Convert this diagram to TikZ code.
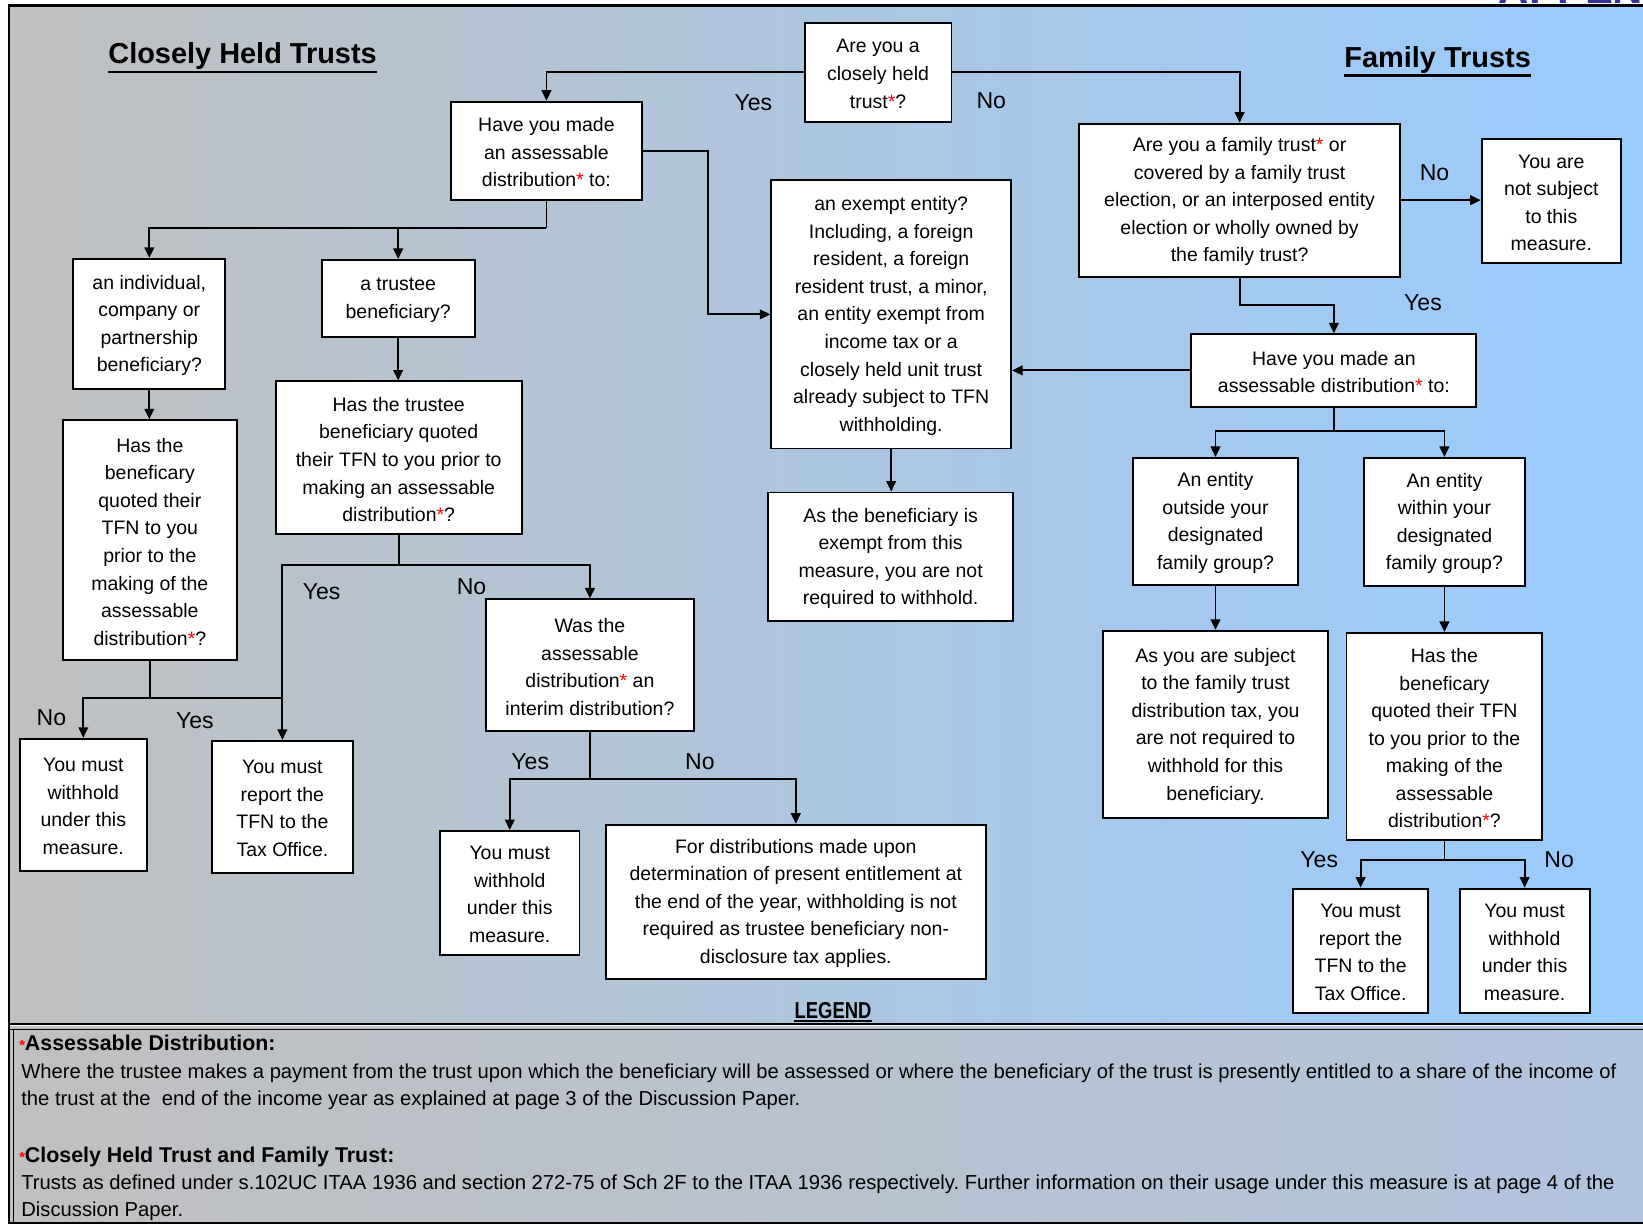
\documentclass[tikz,border=0pt]{standalone}
\usepackage{fontspec}
\setmainfont{Liberation Sans}
\usepackage{graphicx}
\usetikzlibrary{arrows.meta,fit,calc}
\definecolor{silv}{HTML}{C0C0C0}
\definecolor{lblue}{HTML}{99CCFF}
\definecolor{steel}{HTML}{B0C4DE}
\definecolor{navyt}{HTML}{333399}
\newcommand\rast{{\color{red}*}}
\newcommand\lgast{{\color{red}\fontsize{7}{7}\selectfont *}}
\frenchspacing
% box: name, corner, corner, text
\newcommand\mybox[4]{%
  \node[box, fit={#2 #3}] (#1) {};
  \node[btxt] (#1-t) at ([yshift=-0.75pt]#1.center) {#4};}
\begin{document}
\begin{tikzpicture}[x=0.5pt,y=-0.5pt,
  box/.style={draw=black, fill=white, line width=0.9pt, inner sep=0pt},
  btxt/.style={inner sep=0pt, align=center, font=\fontsize{9.3}{13.15}\selectfont},
  conn/.style={line width=0.9pt},
  arr/.style={conn, -{Triangle[length=5pt,width=4.6pt]}},
  yn/.style={font=\fontsize{11}{13}\selectfont, inner sep=0pt},
  ttl/.style={font=\fontsize{13.8}{16}\selectfont\bfseries, inner sep=0pt, anchor=base},
  lgh/.style={font=\fontsize{10.2}{12}\selectfont\bfseries, inner sep=0pt, anchor=base west},
  lgt/.style={font=\fontsize{9.65}{12}\selectfont, inner sep=0pt, anchor=base west},
]
\useasboundingbox (0,0) rectangle (1568,1169);
\fill[white] (0,0) rectangle (1568,1169);
% backgrounds
\shade[left color=silv, right color=lblue] (9,5) rectangle (1568,978);
\shade[left color=silv, right color=steel] (9,980) rectangle (1568,1168);
% appendix heading (cut off at the top edge, as in the reference)
\node[anchor=base west, inner sep=0pt, font=\fontsize{20}{20}\selectfont\bfseries, text=navyt] (app) at (1430,3.5) {APPENDIX};
% frame
\draw[line width=1.2pt] (8,5) -- (1568,5);
\draw[line width=1pt] (9,5) -- (9,1168);
\draw[line width=0.9pt] (9,977.5) -- (1568,977.5);
\draw[line width=0.9pt] (9,982.5) -- (1568,982.5);
\draw[line width=0.8pt] (13,982.5) -- (13,1167);
\draw[line width=1pt] (9,1167.5) -- (1568,1167.5);

% titles
\node[ttl] (t1) at (231.5,61) {Closely Held Trusts};
\draw[line width=1.3pt] ([yshift=-0.8pt]t1.south west) -- ([yshift=-0.8pt]t1.south east);
\node[ttl] (t2) at (1372,64) {Family Trusts};
\draw[line width=1.3pt] ([yshift=-0.8pt]t2.south west) -- ([yshift=-0.8pt]t2.south east);

% boxes
\mybox{Q0}{(768,22)}{(908,116)}{Are you a\\closely held\\trust\rast?}
\mybox{A}{(430,97)}{(613,191)}{Have you made\\an assessable\\distribution\rast{} to:}
\mybox{B1}{(70,247)}{(215,371)}{an individual,\\company or\\partnership\\beneficiary?}
\mybox{B2}{(307,248)}{(453,322)}{a trustee\\beneficiary?}
\mybox{C1}{(60,401)}{(226,630)}{Has the\\beneficary\\quoted their\\TFN to you\\prior to the\\making of the\\assessable\\distribution\rast?}
\mybox{C2}{(263,364)}{(498,510)}{Has the trustee\\beneficiary quoted\\their TFN to you prior to\\making an assessable\\distribution\rast?}
\mybox{E1}{(19,705)}{(140,831)}{You must\\withhold\\under this\\measure.}
\mybox{E2}{(202,707)}{(337,833)}{You must\\report the\\TFN to the\\Tax Office.}
\mybox{D}{(464,572)}{(662,698)}{Was the\\assessable\\distribution\rast{} an\\interim distribution?}
\mybox{F1}{(420,793)}{(553,911)}{You must\\withhold\\under this\\measure.}
\mybox{F2}{(578,787)}{(941,934)}{For distributions made upon\\determination of present entitlement at\\the end of the year, withholding is not\\required as trustee beneficiary non-\\disclosure tax applies.}
\mybox{EX}{(736,172)}{(965,428)}{an exempt entity?\\Including, a foreign\\resident, a foreign\\resident trust, a minor,\\an entity exempt from\\income tax or a\\closely held unit trust\\already subject to TFN\\withholding.}
\mybox{G}{(733,470)}{(967,593)}{As the beneficiary is\\exempt from this\\measure, you are not\\required to withhold.}
\mybox{FT}{(1030,118)}{(1336,264)}{Are you a family trust\rast{} or\\covered by a family trust\\election, or an interposed entity\\election or wholly owned by\\the family trust?}
\mybox{NS}{(1414,133)}{(1547,251)}{You are\\not subject\\to this\\measure.}
\mybox{H}{(1137,319)}{(1409,388)}{Have you made an\\assessable distribution\rast{} to:}
\mybox{I1}{(1081,437)}{(1239,558)}{An entity\\outside your\\designated\\family group?}
\mybox{I2}{(1302,437)}{(1455,559)}{An entity\\within your\\designated\\family group?}
\mybox{J1}{(1053,602)}{(1267,781)}{As you are subject\\to the family trust\\distribution tax, you\\are not required to\\withhold for this\\beneficiary.}
\mybox{K}{(1285,604)}{(1472,802)}{Has the\\beneficary\\quoted their TFN\\to you prior to the\\making of the\\assessable\\distribution\rast?}
\mybox{L1}{(1234,848)}{(1363,967)}{You must\\report the\\TFN to the\\Tax Office.}
\mybox{L2}{(1393,848)}{(1517,967)}{You must\\withhold\\under this\\measure.}

% connectors
\draw[arr] (Q0.west) -| (A.north);
\draw[arr] (Q0.east) -| (FT.north);
\draw[arr] (A.east) -- ++(62,0) |- (EX.west);
\coordinate (jA) at (A.south |- 0,218);
\draw[conn] (A.south) -- (jA);
\draw[arr] (jA) -| (B1.north);
\draw[arr] (jA) -| (B2.north);
\draw[arr] (B1.south) -- (B1.south |- C1.north);
\draw[arr] (B2.south) -- (B2.south |- C2.north);
\coordinate (jC2) at (C2.south |- 0,539);
\draw[conn] (C2.south) -- (jC2);
\draw[arr] (jC2) -| (E2.north);
\draw[arr] (jC2) -| (D.north);
\coordinate (jC1) at (C1.south |- 0,666);
\draw[conn] (C1.south) -- (jC1) -- (jC1 -| E2.north);
\draw[arr] (jC1) -| (E1.north);
\coordinate (jD) at (D.south |- 0,743);
\draw[conn] (D.south) -- (jD);
\draw[arr] (jD) -| (F1.north);
\draw[arr] (jD) -| (F2.north);
\draw[arr] (EX.south) -- (EX.south |- G.north);
\draw[arr] (FT.east) -- (FT.east -| NS.west);
\coordinate (jF) at (FT.south |- 0,291);
\draw[arr] (FT.south) -- (jF) -| (H.north);
\draw[arr] (H.west) -- (H.west -| EX.east);
\coordinate (jH) at (H.south |- 0,411);
\draw[conn] (H.south) -- (jH);
\draw[arr] (jH) -| (I1.north);
\draw[arr] (jH) -| (I2.north);
\draw[arr] (I1.south) -- (I1.south |- J1.north);
\draw[arr] (I2.south) -- (I2.south |- K.north);
\coordinate (jK) at (K.south |- 0,821);
\draw[conn] (K.south) -- (jK);
\draw[arr] (jK) -| (L1.north);
\draw[arr] (jK) -| (L2.north);

% yes / no labels
\node[yn] (y1) at (719,98) {Yes};
\node[yn] (n1) at (946,96) {No};
\node[yn] (y2) at (307,565) {Yes};
\node[yn] (n2) at (450,560) {No};
\node[yn] (n3) at (49,685) {No};
\node[yn] (y3) at (186,688) {Yes};
\node[yn] (y4) at (506,727) {Yes};
\node[yn] (n4) at (668,727) {No};
\node[yn] (n5) at (1369,165) {No};
\node[yn] (y5) at (1358,289) {Yes};
\node[yn] (y6) at (1259,820) {Yes};
\node[yn] (n6) at (1488,820) {No};

% legend
\node[inner sep=0pt, anchor=base, font=\fontsize{11}{13}\selectfont\bfseries] (lg) at (795,972) {\scalebox{0.8}[1]{LEGEND}};
\draw[line width=1pt] ([yshift=-1.2pt]lg.base west) -- ([yshift=-1.2pt]lg.base east);
\node[lgh] (h1) at (18,1003) {\lgast Assessable Distribution:};
\node[lgt] (l1) at (20,1029) {Where the trustee makes a payment from the trust upon which the beneficiary will be assessed or where the beneficiary of the trust is presently entitled to a share of the income of};
\node[lgt] (l2) at (20,1055) {the trust at the\ \ end of the income year as explained at page 3 of the Discussion Paper.};
\node[lgh] (h2) at (18,1109) {\lgast Closely Held Trust and Family Trust:};
\node[lgt] (l3) at (20,1135) {Trusts as defined under s.102UC ITAA 1936 and section 272-75 of Sch 2F to the ITAA 1936 respectively. Further information on their usage under this measure is at page 4 of the};
\node[lgt] (l4) at (20,1161) {Discussion Paper.};
\end{tikzpicture}
\end{document}
